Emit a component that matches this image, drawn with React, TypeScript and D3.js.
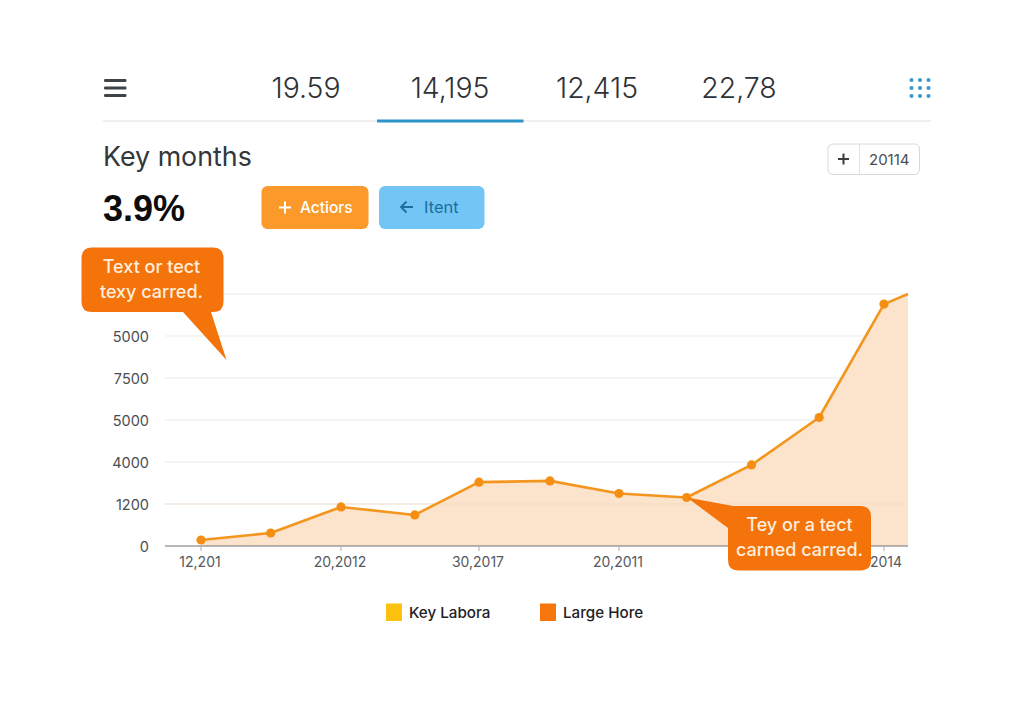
import React from "react";
import * as d3 from "d3";

const tabLabels = ["19.59", "14,195", "12,415", "22,78"];
const yTickLabels = ["0", "1200", "4000", "5000", "7500", "5000", ""];
const yTickSteps = [0, 1000, 2000, 3000, 4000, 5000, 6000];
const xPositions = [0, 1.02, 2.05, 3.13, 4.07, 5.11, 6.12, 7.11, 8.06, 9.05, 10, 10.35];
const values = [143, 310, 930, 740, 1520, 1550, 1250, 1155, 1930, 3060, 5760, 6000];
const xTickSteps = [0, 2.05, 4.07, 6.12, 8.06, 10];
const xTickLabels = ["12,201", "20,2012", "30,2017", "20,2011", "", "2014"];
const legendLabels = ["Key Labora", "Large Hore"];
const legendColors = ["#fcc20d", "#f6760b"];

const FONT = "Inter, 'Noto Sans', sans-serif";

export default function App() {
  const x = d3.scaleLinear().domain([0, 10]).range([201, 884]);
  const y = d3.scaleLinear().domain([0, 6000]).range([546, 294]);
  const pts = xPositions.map((p, i) => [p, values[i]] as [number, number]);
  const area = d3.area<[number, number]>().x((d) => x(d[0])).y0(y(0)).y1((d) => y(d[1]));
  const line = d3.line<[number, number]>().x((d) => x(d[0])).y((d) => y(d[1]));
  const tabX = [306, 450, 597, 739];
  const dots: number[] = [0, 1, 2];

  return (
    <svg width={1024} height={704} viewBox="0 0 1024 704" style={{ position: "absolute", left: 0, top: 0, background: "#fff", fontFamily: FONT }}>
      {/* header */}
      <g fill="#3f4448">
        {dots.map((i) => (
          <rect key={i} x={104} y={79 + i * 7.5} width={22.5} height={3} rx={1.2} />
        ))}
      </g>
      {tabLabels.map((t, i) => (
        <text key={t} x={tabX[i]} y={98} textAnchor="middle" fontSize={28.4} fill="#2e3236" fontWeight={300}>{t}</text>
      ))}
      <line x1={103} x2={931} y1={121} y2={121} stroke="#e8eaeb" strokeWidth={1.5} />
      <rect x={377} y={119.5} width={146.5} height={3} fill="#2c94cb" />
      {dots.flatMap((r) =>
        dots.map((c) => (
          <circle key={`${r}-${c}`} cx={911.5 + c * 8.5} cy={80 + r * 8} r={2.1} fill="#3d9bcc" />
        ))
      )}

      {/* title area */}
      <text x={103} y={166} fontSize={26.8} fill="#33373a" fontWeight={400}>Key months</text>
      <text x={103} y={221} fontSize={36} fontWeight={700} fill="#0c0c0c" fontFamily="'Liberation Sans', Arial, sans-serif">3.9%</text>

      <rect x={261.5} y={186} width={107} height={43} rx={6} fill="#fb9a2b" />
      <path d="M279 207.5H291M285 201.5V213.5" stroke="#fff" strokeWidth={2} />
      <text x={300} y={212.5} fontSize={15.5} fill="#fff" fontWeight={500}>Actiors</text>

      <rect x={379} y={186} width={105.5} height={43} rx={6} fill="#72c5f5" />
      <path d="M413 207H401M406.5 201.5L401 207L406.5 212.5" stroke="#1a6f9e" strokeWidth={1.8} fill="none" />
      <text x={424} y={212.5} fontSize={16.5} fill="#1a6f9e">Itent</text>

      <rect x={828} y={144} width={91.5} height={30.5} rx={5} fill="#fff" stroke="#d5d8da" />
      <line x1={859.5} x2={859.5} y1={144} y2={174.5} stroke="#dfe1e3" />
      <path d="M838 159H849M843.5 153.5V164.5" stroke="#3a3e42" strokeWidth={2} />
      <text x={869} y={164.5} fontSize={15} fill="#4a4e52">20114</text>

      {/* chart */}
      {yTickSteps.slice(1).map((v) => (
        <line key={v} x1={165} x2={908} y1={y(v)} y2={y(v)} stroke="#e9ebec" strokeWidth={1} />
      ))}
      <path d={area(pts) ?? ""} fill="#fce3cb" />
      <line x1={165} x2={908} y1={y(1000)} y2={y(1000)} stroke="#f3dac3" strokeWidth={1} opacity={0.7} />
      <line x1={165} x2={908} y1={y(0)} y2={y(0)} stroke="#6f7377" strokeWidth={1.2} />
      {yTickSteps.map((v, i) => (
        <text key={v} x={149} y={y(v) + 5.5} textAnchor="end" fontSize={14.5} fill="#4a4e52">{yTickLabels[i]}</text>
      ))}
      {xTickSteps.map((v, i) => (
        <g key={v}>
          <line x1={x(v)} x2={x(v)} y1={546} y2={551} stroke="#a8abae" />
          <text x={i === 5 ? 886 : x(v) - 1} y={567} textAnchor="middle" fontSize={14} fill="#55595d">{xTickLabels[i]}</text>
        </g>
      ))}
      <path d={line(pts) ?? ""} fill="none" stroke="#f2961f" strokeWidth={2.6} strokeLinejoin="round" />
      {pts.slice(0, 11).map((d, i) => (
        <circle key={i} cx={x(d[0])} cy={y(d[1])} r={4.6} fill="#f58f14" />
      ))}

      {/* callouts */}
      <path d="M92 247.5H213Q223.5 247.5 223.5 258V302Q223.5 312 213 312H211L226.5 360L183 312H92Q81.5 312 81.5 302V258Q81.5 247.5 92 247.5Z" fill="#f4730a" />
      <text x={151.5} y={273} textAnchor="middle" fontSize={18} fill="#fdeedd" fontWeight={500}>Text or tect</text>
      <text x={151.5} y={298} textAnchor="middle" fontSize={18} fill="#fdeedd" fontWeight={500}>texy carred.</text>

      <path d="M738 506H860Q871 506 871 517V560Q871 570.5 860 570.5H738Q728 570.5 728 560V528L687 497.5L733 506Z" fill="#f4730a" />
      <text x={799.5} y={531} textAnchor="middle" fontSize={18} fill="#fdeedd" fontWeight={500}>Tey or a tect</text>
      <text x={799.5} y={555.5} textAnchor="middle" fontSize={18} fill="#fdeedd" fontWeight={500}>carned carred.</text>

      {/* legend */}
      {legendLabels.map((t, i) => {
        const lx = [386, 540][i];
        return (
          <g key={t}>
            <rect x={lx} y={603.5} width={16} height={17.5} fill={legendColors[i]} />
            <text x={lx + 23} y={617.5} fontSize={15.2} fontWeight={500} fill="#1e2124">{t}</text>
          </g>
        );
      })}
    </svg>
  );
}
